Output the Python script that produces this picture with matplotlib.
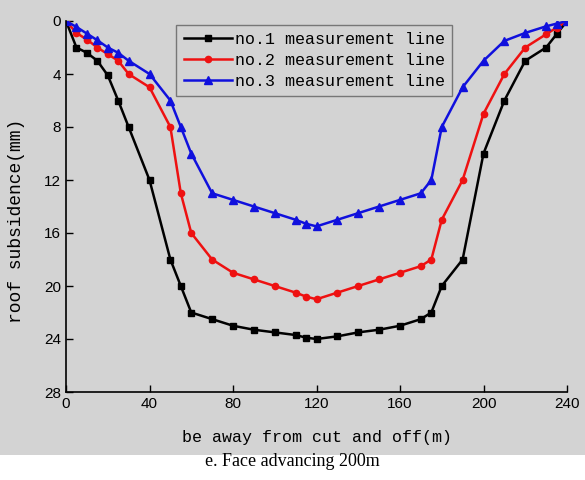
import matplotlib.pyplot as plt
from matplotlib.patches import Rectangle

# ── data ──────────────────────────────────────────────────────────────────────
x_pos = [0, 5, 10, 15, 20, 25, 30, 40, 50, 55, 60, 70, 80, 90, 100, 110, 115,
         120, 130, 140, 150, 160, 170, 175, 180, 190, 200, 210, 220, 230, 235, 240]

line1 = [0, 2.0, 2.4, 3.0, 4.1, 6.0, 8.0, 12.0, 18.0, 20.0, 22.0, 22.5, 23.0,
         23.3, 23.5, 23.7, 23.9, 24.0, 23.8, 23.5, 23.3, 23.0, 22.5, 22.0,
         20.0, 18.0, 10.0, 6.0, 3.0, 2.0, 1.0, 0]
line2 = [0, 0.9, 1.4, 2.0, 2.5, 3.0, 4.0, 5.0, 8.0, 13.0, 16.0, 18.0, 19.0,
         19.5, 20.0, 20.5, 20.8, 21.0, 20.5, 20.0, 19.5, 19.0, 18.5, 18.0,
         15.0, 12.0, 7.0, 4.0, 2.0, 1.0, 0.5, 0]
line3 = [0, 0.45, 0.95, 1.45, 2.0, 2.4, 3.0, 4.0, 6.0, 8.0, 10.0, 13.0, 13.5,
         14.0, 14.5, 15.0, 15.3, 15.5, 15.0, 14.5, 14.0, 13.5, 13.0, 12.0,
         8.0, 5.0, 3.0, 1.5, 0.9, 0.4, 0.2, 0]

labels = ["no.1 measurement line", "no.2 measurement line", "no.3 measurement line"]
x_ticks = [0, 40, 80, 120, 160, 200, 240]
y_ticks = [0, 4, 8, 12, 16, 20, 24, 28]

BG = "#d3d3d3"
MONO = "Liberation Mono"

fig = plt.figure(figsize=(5.85, 4.8), dpi=100)
fig.patch.set_facecolor("white")
fig.patches.append(Rectangle((0, 1 - 455 / 480), 1, 455 / 480,
                             transform=fig.transFigure, facecolor=BG,
                             edgecolor="none", zorder=-10))

ax = fig.add_axes([66 / 585, 1 - 392 / 480, (567 - 66) / 585, (392 - 21) / 480])
ax.set_facecolor(BG)

ax.plot(x_pos, line1, color="black", lw=1.8, marker="s", ms=4.5, label=labels[0])
ax.plot(x_pos, line2, color="#ee1111", lw=1.8, marker="o", ms=4.5, label=labels[1])
ax.plot(x_pos, line3, color="#1010dd", lw=1.8, marker="^", ms=5.5, label=labels[2])

ax.set_xlim(0, 240)
ax.set_ylim(28, 0)
ax.set_xticks(x_ticks)
ax.set_yticks(y_ticks)
ax.tick_params(direction="in", length=5, width=1, labelsize=11)
for lbl in ax.get_xticklabels() + ax.get_yticklabels():
    lbl.set_family("Liberation Sans")
ax.spines["top"].set_visible(False)
ax.spines["right"].set_visible(False)
for s in ("left", "bottom"):
    ax.spines[s].set_linewidth(1.2)

ax.set_xlabel("be away from cut and off(m)", family=MONO, fontsize=12, labelpad=14)
ax.set_ylabel("roof subsidence(mm)", family=MONO, fontsize=13)
ax.yaxis.set_label_coords(-0.082, 0.46)

leg = ax.legend(loc="upper left", bbox_to_anchor=(0.22, 0.99),
                prop={"family": MONO, "size": 12}, fancybox=False,
                frameon=True, handlelength=2.9, handletextpad=0.15,
                borderpad=0.45, labelspacing=0.35, borderaxespad=0)
leg.get_frame().set_facecolor(BG)
leg.get_frame().set_edgecolor("#777777")
leg.get_frame().set_alpha(1)

fig.text(292 / 585, 1 - 462 / 480, "e. Face advancing 200m",
         family="Liberation Serif", fontsize=13, ha="center", va="center")

fig.savefig("out.png", dpi=100, facecolor=fig.get_facecolor())
